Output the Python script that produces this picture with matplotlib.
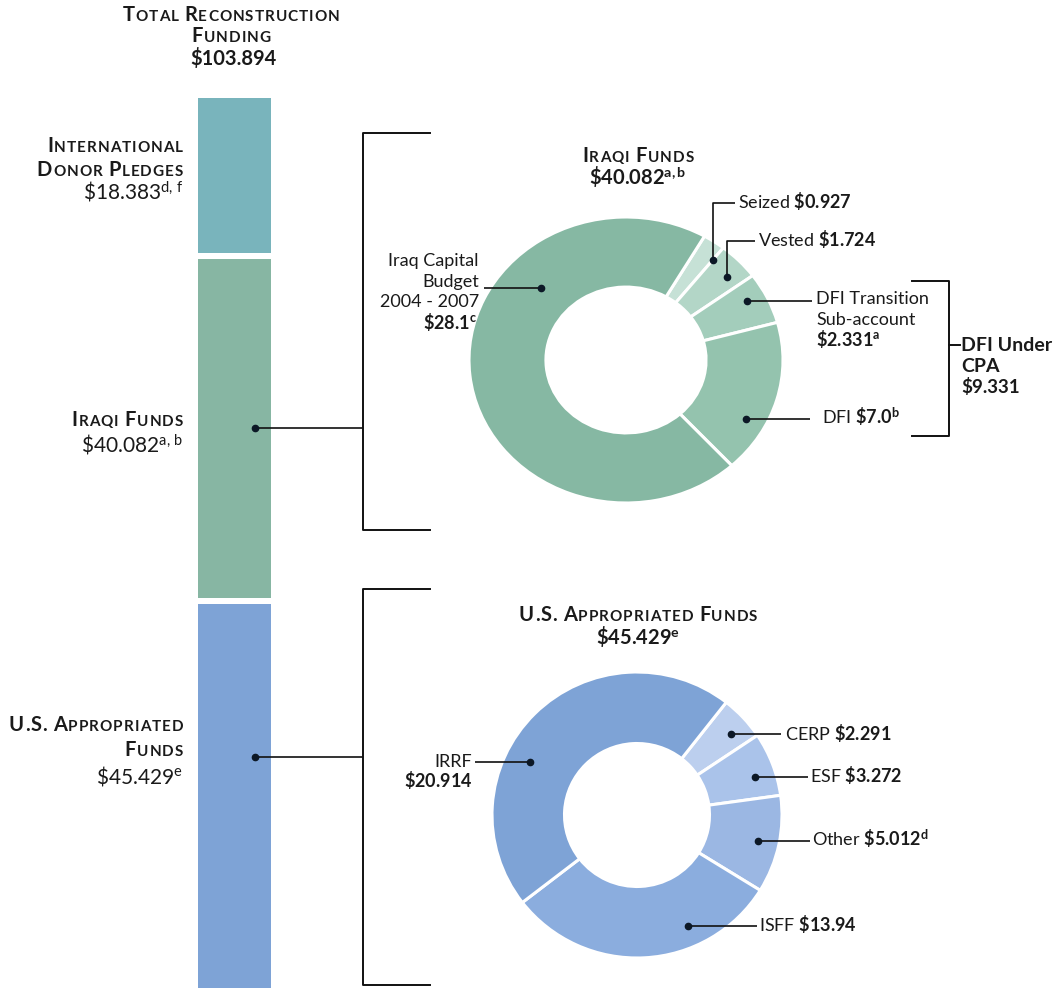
import matplotlib

matplotlib.use("Agg")
import matplotlib.pyplot as plt
import numpy as np
from matplotlib.font_manager import FontProperties, findfont, get_font

plt.rcParams["font.family"] = ["Lato", "DejaVu Sans"]
plt.rcParams["mathtext.fontset"] = "custom"
plt.rcParams["mathtext.rm"] = "Lato"
plt.rcParams["mathtext.bf"] = "Lato:bold"
plt.rcParams["mathtext.it"] = "Lato:italic"

# --- data -----------------------------------------------------------------
total = 103.894
bar_names = ["International Donor Pledges", "Iraqi Funds", "U.S. Appropriated Funds"]
bar_values = [18.383, 40.082, 45.429]
bar_colors = ["#79b4bc", "#87b6a3", "#7ea3d6"]

iraqi_names = ["Seized", "Vested", "DFI Transition Sub-account", "DFI", "Iraq Capital Budget 2004 - 2007"]
iraqi_values = [0.927, 1.724, 2.331, 7.0, 28.1]
iraqi_colors = ["#c6e1d6", "#b3d6c7", "#a3cdbb", "#94c3ae", "#86b8a3"]

us_names = ["CERP", "ESF", "Other", "ISFF", "IRRF"]
us_values = [2.291, 3.272, 5.012, 13.94, 20.914]
us_colors = ["#bccfee", "#aac3ea", "#9bb7e3", "#8badde", "#7ea3d6"]

dfi_under_cpa = 9.331

W, H = 1062, 988
fig = plt.figure(figsize=(W / 100, H / 100), dpi=100)


def px_axes(cx, cy, rx, ry):
    return fig.add_axes([(cx - rx) / W, 1 - (cy + ry) / H, 2 * rx / W, 2 * ry / H])


# --- donuts ----------------------------------------------------------------
ax_iq = px_axes(626, 360, 157, 143)
ax_iq.pie(iraqi_values, colors=iraqi_colors, startangle=60, counterclock=False,
          radius=1, wedgeprops=dict(width=0.49, edgecolor="white", linewidth=2.2))
ax_iq.set_aspect("auto")
ax_iq.set_xlim(-1, 1)
ax_iq.set_ylim(-1, 1)
ax_iq.axis("off")

ax_us = px_axes(637, 815, 145, 143)
ax_us.pie(us_values, colors=us_colors, startangle=52, counterclock=False,
          radius=1, wedgeprops=dict(width=0.5, edgecolor="white", linewidth=2.2))
ax_us.set_aspect("auto")
ax_us.set_xlim(-1, 1)
ax_us.set_ylim(-1, 1)
ax_us.axis("off")

# --- main overlay axes in pixel coordinates --------------------------------
ax = fig.add_axes([0, 0, 1, 1])
ax.set_zorder(5)
ax.patch.set_alpha(0)
ax.set_xlim(0, W)
ax.set_ylim(H, 0)
ax.axis("off")

# stacked total bar, heights proportional to the values
gap = 6
bar_top = 98
k = (H - bar_top - 2 * gap) / total
bottoms = bar_top + np.concatenate([[0], np.cumsum(bar_values)[:-1]]) * k + np.arange(3) * gap
ax.bar([234.5] * 3, np.array(bar_values) * k, bottom=bottoms, width=73,
       color=bar_colors, linewidth=0)

DARK = "#111111"
INK = "#1a1a1a"
BOLD_FONT = get_font(findfont(FontProperties(family="Lato", weight="bold")))


def advance(ch, size):
    BOLD_FONT.set_size(size, 100)
    g = BOLD_FONT.load_char(ord(ch))
    return g.linearHoriAdvance / 65536


def small_caps(x, y, text, big=14.5, small=11, ha="left", track=1.0):
    # fake small caps: upper-case letters big, lower-case letters as smaller capitals
    chars = [(ch.upper(), small if ch.islower() else big) for ch in text]
    advs = [advance(c, s) + (track if c != " " else 0) for c, s in chars]
    tot = sum(advs) - track
    pen = {"left": x, "center": x - tot / 2, "right": x - tot}[ha]
    for (c, s), a in zip(chars, advs):
        if c != " ":
            ax.text(pen, y, c, fontsize=s, fontweight="bold", va="baseline",
                    ha="left", color=INK)
        pen += a


def label(x, y, s, ha="left", size=13, weight="normal"):
    ax.text(x, y, s, ha=ha, va="baseline", fontsize=size, fontweight=weight, color=INK)


def leader(xs, ys):
    ax.plot(xs, ys, color=DARK, lw=1.2, solid_capstyle="butt", zorder=6)
    ax.plot(xs[0], ys[0], "o", color="#0c1826", ms=4.5, zorder=7)


# headline
small_caps(231, 21, "Total Reconstruction", ha="center")
small_caps(231, 42, "Funding", ha="center")
label(233, 65, r"\$103.894", ha="center", size=14.5, weight="bold")

# left labels
small_caps(183, 152, "International", ha="right")
small_caps(183, 176, "Donor Pledges", ha="right")
label(183, 199, r"\$18.383$^{\rm d,\,f}$", ha="right", size=15)
small_caps(183, 426, "Iraqi Funds", ha="right")
label(183, 452, r"\$40.082$^{\rm a,\,b}$", ha="right", size=15)
small_caps(183, 731, "U.S. Appropriated", ha="right")
small_caps(183, 756, "Funds", ha="right")
label(183, 783, r"\$45.429$^{\rm e}$", ha="right", size=15)

# bar to brackets
leader([255, 363], [428, 428])
leader([255, 363], [757, 757])
ax.plot([430, 363, 363, 430], [133, 133, 530, 530], color=DARK, lw=1.4)
ax.plot([430, 363, 363, 430], [589, 589, 985, 985], color=DARK, lw=1.4)

# iraqi donut labels
small_caps(638, 162, "Iraqi Funds", ha="center")
label(638, 185, r"\$40.082$^{\mathbf{a,b}}$", ha="center", size=14.5, weight="bold")

leader([713, 713, 735], [260, 203, 203])
label(738, 208, r"Seized $\mathbf{\$0.927}$")
leader([727, 727, 755], [277, 241, 241])
label(758, 246, r"Vested $\mathbf{\$1.724}$")
leader([747, 812], [301, 301])
label(816, 304, "DFI Transition")
label(816, 325, "Sub-account")
label(816, 346, r"$\mathbf{\$2.331}^{\mathbf{a}}$")
leader([746, 810], [419, 419])
label(822, 424, r"DFI $\mathbf{\$7.0}^{\mathbf{b}}$")
leader([541, 484], [288, 288])
label(479, 266, "Iraq Capital", ha="right")
label(479, 287, "Budget", ha="right")
label(479, 307, "2004 - 2007", ha="right")
label(477, 329, r"$\mathbf{\$28.1}^{\mathbf{c}}$", ha="right")

ax.plot([912, 949, 949, 912], [281, 281, 436, 436], color=DARK, lw=1.4)
ax.plot([949, 960], [345, 345], color=DARK, lw=1.4)
label(961, 351, "DFI Under", weight="bold", size=14)
label(961, 372, "CPA", weight="bold", size=14)
label(961, 393, rf"\${dfi_under_cpa:.3f}", weight="bold", size=13.5)

# US donut labels
small_caps(638, 621, "U.S. Appropriated Funds", ha="center")
label(638, 644, r"\$45.429$^{\mathbf{e}}$", ha="center", size=14.5, weight="bold")

leader([530, 475], [762, 762])
label(472, 767, "IRRF", ha="right")
label(472, 787, r"$\mathbf{\$20.914}$", ha="right")
leader([731, 781], [734, 734])
label(785, 740, r"CERP $\mathbf{\$2.291}$")
leader([755, 808], [777, 777])
label(810, 782, r"ESF $\mathbf{\$3.272}$")
leader([758, 810], [841, 841])
label(812, 846, r"Other $\mathbf{\$5.012}^{\mathbf{d}}$")
leader([688, 757], [926, 926])
label(759, 931, r"ISFF $\mathbf{\$13.94}$")

fig.savefig("out.png", dpi=100)
